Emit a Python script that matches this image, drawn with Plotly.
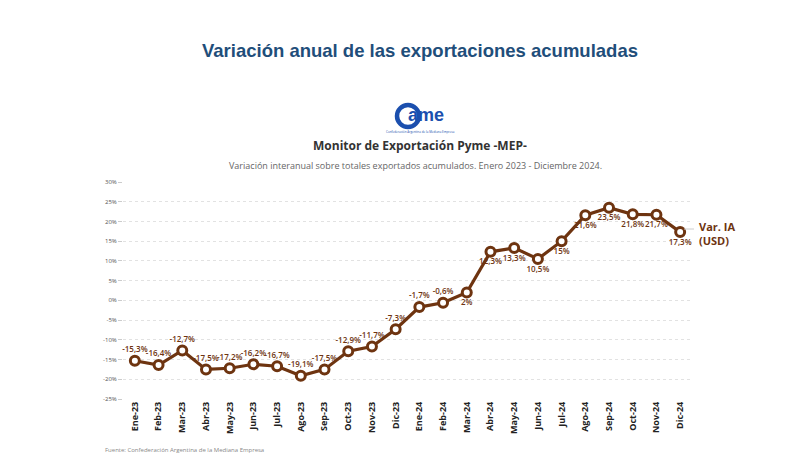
import plotly.graph_objects as go

months = ["Ene-23","Feb-23","Mar-23","Abr-23","May-23","Jun-23","Jul-23","Ago-23","Sep-23","Oct-23","Nov-23","Dic-23",
          "Ene-24","Feb-24","Mar-24","Abr-24","May-24","Jun-24","Jul-24","Ago-24","Sep-24","Oct-24","Nov-24","Dic-24"]
values = [-15.3,-16.4,-12.7,-17.5,-17.2,-16.2,-16.7,-19.1,-17.5,-12.9,-11.7,-7.3,
          -1.7,-0.6,2.0,12.3,13.3,10.5,15.0,21.6,23.5,21.8,21.7,17.3]
labels = ["-15,3%","-16,4%","-12,7%","-17,5%","-17,2%","-16,2%","-16,7%","-19,1%","-17,5%","-12,9%","-11,7%","-7,3%",
          "-1,7%","-0,6%","2%","12,3%","13,3%","10,5%","15%","21,6%","23,5%","21,8%","21,7%","17,3%"]
ytick_vals = [-25,-20,-15,-10,-5,0,5,10,15,20,25,30]
ytick_text = ["-25%","-20%","-15%","-10%","-5%","0%","5%","10%","15%","20%","25%","30%"]

W, H = 800, 473
OFF = 8  # page offset of the figure
ML, MR, MT, MB = 123 - OFF, 800 - 692 + OFF, 182 - OFF, 473 - 399 + OFF
BROWN = "#6e3410"

def px(x):  # page pixel -> paper x
    return (x - OFF - ML) / (W - ML - MR)
def py(y):  # page pixel -> paper y
    return (H - MB - (y - OFF)) / (H - MT - MB)

positions = ["top center" if v < 0 else "bottom center" for v in values]

fig = go.Figure()
fig.add_trace(go.Scatter(
    x=months, y=values, mode="lines+markers+text",
    text=labels, textposition=positions,
    textfont=dict(family="Open Sans", size=8, color=BROWN, weight=600),
    line=dict(color=BROWN, width=3.2),
    marker=dict(size=9, color="white", line=dict(color=BROWN, width=3)),
    cliponaxis=False, showlegend=False,
))

fig.update_layout(
    width=W, height=H,
    margin=dict(l=ML, r=MR, t=MT, b=MB),
    paper_bgcolor="white", plot_bgcolor="white",
    xaxis=dict(range=[-0.5, 23.5], tickangle=-90, showgrid=False, showline=False,
               tickfont=dict(family="Open Sans", size=9, color="#222222", weight="bold"),
               ticks="", zeroline=False),
    yaxis=dict(range=[-25, 30], tickvals=ytick_vals, ticktext=ytick_text,
               showgrid=True, gridcolor="#e2e2e2", griddash="dot", gridwidth=1,
               zeroline=False, ticks="outside", ticklen=4, tickcolor="#cccccc",
               tickfont=dict(family="Open Sans", size=6, color="#555555")),
    font=dict(family="Open Sans"),
)

anns = [
    dict(text="<b>Variación anual de las exportaciones acumuladas</b>", x=px(420), y=py(50),
         font=dict(family="Liberation Sans", size=18.5, color="#1f4e7a")),
    dict(text="<b>Monitor de Exportación Pyme -MEP-</b>", x=px(420), y=py(145),
         font=dict(family="Open Sans", size=12, color="#333333")),
    dict(text="Variación interanual sobre totales exportados acumulados. Enero 2023 - Diciembre 2024.",
         x=px(415), y=py(165), font=dict(family="Open Sans", size=9, color="#666666")),
    dict(text="<b>ame</b>", x=px(426), y=py(115),
         font=dict(family="Liberation Sans", size=18, color="#1b4fae")),
    dict(text="Confederación Argentina de la Mediana Empresa", x=px(420), y=py(132),
         font=dict(family="Open Sans", size=3, color="#1b4fae")),
    dict(text="<b>Var. IA<br>(USD)</b>", x=px(697), y=py(233), xanchor="left", align="left",
         font=dict(family="Open Sans", size=11, color=BROWN)),
    dict(text="Fuente: Confederación Argentina de la Mediana Empresa", x=px(103), y=py(450),
         xanchor="left", font=dict(family="Open Sans", size=6, color="#888888")),
]
for a in anns:
    a.setdefault("xanchor", "center")
    fig.add_annotation(xref="paper", yref="paper", showarrow=False, yanchor="middle", **a)

fig.add_shape(type="circle", xref="paper", yref="paper",
              x0=px(397), x1=px(419), y0=py(127), y1=py(105),
              line=dict(color="#1b4fae", width=4.5))
fig.add_shape(type="line", xref="paper", yref="paper",
              x0=px(684), x1=px(694), y0=py(229), y1=py(229),
              line=dict(color="#cccccc", width=1))

fig.write_html("out.html")
